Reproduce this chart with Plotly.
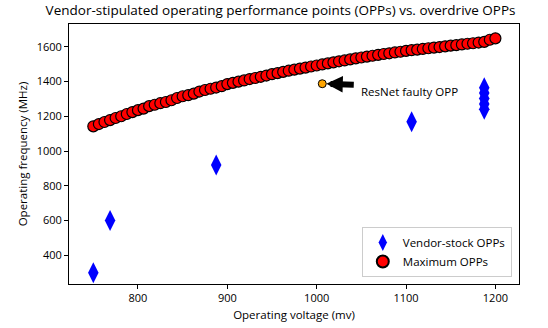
import plotly.graph_objects as go

# Vendor-stock OPPs
vendor_v = [750, 768.75, 887.5, 1106.25, 1187.5, 1187.5, 1187.5, 1187.5, 1187.5]
vendor_f = [300, 600, 920, 1168, 1240, 1271, 1302, 1333, 1364]

# Maximum OPPs
max_v = [750 + 6.25 * k for k in range(73)]
max_f = [1142, 1155, 1167, 1178, 1190, 1200, 1213, 1224, 1235, 1244,
         1258, 1266, 1275, 1282, 1292, 1305, 1315, 1321, 1330, 1342,
         1351, 1358, 1365, 1373, 1385, 1392, 1399, 1406, 1414, 1420,
         1427, 1434, 1442, 1448, 1455, 1462, 1468, 1474, 1480, 1486,
         1492, 1498, 1504, 1510, 1516, 1521, 1527, 1533, 1538, 1543,
         1548, 1553, 1558, 1562, 1567, 1571, 1576, 1580, 1583, 1587,
         1591, 1595, 1598, 1602, 1606, 1609, 1613, 1617, 1620, 1624,
         1628, 1640, 1648]

# Faulty OPP
faulty_v = [1006.25]
faulty_f = [1387]

FONT = "Open Sans"

fig = go.Figure()
fig.add_trace(go.Scatter(
    x=vendor_v, y=vendor_f, mode="markers", name="Vendor-stock OPPs",
    marker=dict(symbol="diamond-tall", size=15, color="#0000FF",
                line=dict(width=0))))
fig.add_trace(go.Scatter(
    x=max_v, y=max_f, mode="markers", name="Maximum OPPs",
    marker=dict(symbol="circle", size=11, color="#FF0000",
                line=dict(width=1.2, color="black"))))
fig.add_trace(go.Scatter(
    x=faulty_v, y=faulty_f, mode="markers", showlegend=False,
    marker=dict(symbol="circle", size=8, color="#FFA500",
                line=dict(width=1, color="black"))))

fig.add_annotation(x=faulty_v[0], y=faulty_f[0], xref="x", yref="y",
                   ax=33, ay=1, axref="pixel", ayref="pixel",
                   text="", showarrow=True, arrowhead=2, arrowsize=0.55,
                   arrowwidth=6, arrowcolor="black", standoff=4)
fig.add_annotation(x=1047, y=1345, xref="x", yref="y", xanchor="left",
                   yanchor="middle", text="ResNet faulty OPP", showarrow=False,
                   font=dict(family=FONT, size=11.5, color="black"))

fig.update_layout(
    width=548, height=328,
    margin=dict(l=69, r=29, t=24, b=44),
    paper_bgcolor="white", plot_bgcolor="white",
    font=dict(family=FONT, size=11.5, color="black"),
    title=dict(text="Vendor-stipulated operating performance points (OPPs) vs. overdrive OPPs",
               xref="container", x=0.512, xanchor="center",
               yref="container", y=0.97, yanchor="middle",
               font=dict(family=FONT, size=13.5, color="black")),
    showlegend=True,
    legend=dict(x=0.984, y=0.027, xanchor="right", yanchor="bottom",
                bordercolor="#CCCCCC", borderwidth=1, bgcolor="white",
                font=dict(family=FONT, size=11.5), itemsizing="constant"),
)
fig.update_xaxes(range=[722.8, 1226.4], tickvals=[800, 900, 1000, 1100, 1200],
                 automargin=False,
                 showgrid=False, zeroline=False, showline=True, linecolor="black",
                 linewidth=1, mirror=True, ticks="outside", ticklen=4,
                 tickcolor="black", tickfont=dict(size=11),
                 title=dict(text="Operating voltage (mv)", standoff=6,
                            font=dict(size=11.5)))
fig.update_yaxes(range=[235, 1730.6], tickvals=[400, 600, 800, 1000, 1200, 1400, 1600],
                 automargin=False,
                 showgrid=False, zeroline=False, showline=True, linecolor="black",
                 linewidth=1, mirror=True, ticks="outside", ticklen=4,
                 tickcolor="black", tickfont=dict(size=11),
                 title=dict(text="Operating frequency (MHz)", standoff=6,
                            font=dict(size=11.5)))

fig.write_html("out.html", config={"displayModeBar": False},
               post_script="document.body.style.margin='0';document.body.style.overflow='hidden';")
